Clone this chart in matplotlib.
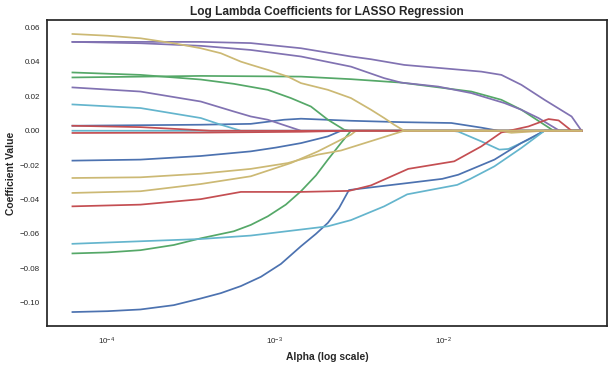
import numpy as np
import matplotlib
matplotlib.use('Agg')
import matplotlib.pyplot as plt

# colours (seaborn "deep" palette)
blue, green, red, purple, yellow, cyan = '#4C72B0', '#55A868', '#C44E52', '#8172B2', '#CCB974', '#64B5CD'

# coefficient paths: log10(alpha) knots and coefficient values
la_c3 = [-4.202, -1.952, -1.911, -1.774, -1.667, -1.613, -1.494, -1.399, -1.179]
cf_c3 = [0, 0, -0.0005, -0.0062, -0.011, -0.0106, -0.0052, 0, 0]

la_b3 = [-4.202, -3.994, -3.798, -3.601, -3.440, -3.321, -3.202, -3.083, -2.964, -2.845, -2.756, -2.685, -2.619, -2.560,
         -2.208, -2.006, -1.911, -1.696, -1.536, -1.399, -1.179]
cf_b3 = [-0.1055, -0.105, -0.104, -0.1015, -0.0976, -0.0945, -0.0904, -0.085, -0.0775, -0.0672, -0.060, -0.0536, -0.045, -0.0345,
         -0.0304, -0.028, -0.0256, -0.0168, -0.0071, 0, 0]

la_g3 = [-4.202, -3.994, -3.798, -3.601, -3.440, -3.244, -3.143, -3.042, -2.935, -2.845, -2.756, -2.685, -2.607, -2.548, -1.179]
cf_g3 = [-0.0714, -0.0708, -0.0695, -0.0665, -0.0626, -0.0585, -0.0548, -0.0498, -0.043, -0.0352, -0.026, -0.0168, -0.0071, 0, 0]

la_c2 = [-4.202, -3.440, -3.143, -2.845, -2.685, -2.548, -2.351, -2.214, -1.917, -1.839, -1.696, -1.536, -1.399, -1.179]
cf_c2 = [-0.0658, -0.063, -0.061, -0.0575, -0.0556, -0.052, -0.044, -0.037, -0.0315, -0.028, -0.0207, -0.010, 0, 0]

la_b2 = [-4.202, -3.798, -3.440, -3.143, -2.994, -2.845, -2.685, -2.607, -1.179]
cf_b2 = [-0.0174, -0.0168, -0.0147, -0.012, -0.0098, -0.0072, -0.0033, 0, 0]

la_b1 = [-4.202, -3.440, -3.143, -2.946, -2.845, -2.548, -2.250, -1.952, -1.774, -1.673, -1.179]
cf_b1 = [0.0029, 0.0035, 0.004, 0.0064, 0.007, 0.0058, 0.005, 0.0045, 0.0018, 0, 0]

la_g1 = [-4.202, -3.798, -3.440, -3.244, -3.042, -2.905, -2.786, -2.685, -2.589, -2.560, -1.179]
cf_g1 = [0.0339, 0.0325, 0.0298, 0.0273, 0.0238, 0.019, 0.0141, 0.0064, 0.0006, 0, 0]

la_g2 = [-4.202, -3.440, -2.845, -2.548, -2.250, -1.833, -1.655, -1.536, -1.345, -1.179]
cf_g2 = [0.031, 0.0319, 0.0315, 0.030, 0.028, 0.0228, 0.018, 0.0122, 0, 0]

la_p1 = [-4.202, -3.440, -3.143, -2.845, -2.548, -2.429, -2.232, -1.774, -1.655, -1.536, -1.399, -1.238, -1.179]
cf_p1 = [0.0517, 0.0517, 0.051, 0.048, 0.0432, 0.0416, 0.0383, 0.0344, 0.0325, 0.0267, 0.018, 0.0083, 0]

la_p2 = [-4.202, -3.798, -3.440, -3.143, -2.845, -2.548, -2.351, -2.250, -2.030, -1.833, -1.637, -1.536, -1.435, -1.310, -1.179]
cf_p2 = [0.0517, 0.0509, 0.0494, 0.047, 0.0432, 0.0373, 0.0306, 0.028, 0.0257, 0.0219, 0.0161, 0.0122, 0.0074, 0, 0]

la_p3 = [-4.202, -3.798, -3.440, -3.244, -3.143, -3.042, -2.845, -1.179]
cf_p3 = [0.0252, 0.0228, 0.017, 0.0112, 0.0083, 0.0064, 0, 0]

la_c1 = [-4.202, -3.798, -3.440, -3.321, -3.202, -1.179]
cf_c1 = [0.0153, 0.0132, 0.0074, 0.0035, 0, 0]

la_y3 = [-4.202, -3.798, -3.440, -3.143, -2.905, -2.744, -2.607, -2.548, -2.518, -1.673, -1.595, -1.399, -1.179]
cf_y3 = [-0.0362, -0.0352, -0.031, -0.0265, -0.0188, -0.012, -0.0052, -0.0023, 0, 0, -0.0012, 0, 0]

la_r2 = [-4.202, -3.798, -3.440, -3.202, -2.845, -2.560, -2.429, -2.208, -1.935, -1.774, -1.655, -1.494, -1.375, -1.315, -1.238, -1.179]
cf_r2 = [-0.044, -0.043, -0.0398, -0.0356, -0.0356, -0.035, -0.0318, -0.0222, -0.0178, -0.0091, -0.001, 0.0025, 0.0068, 0.006, 0, 0]

la_r0 = [-4.202, -3.798, -3.381, -1.179]
cf_r0 = [0.0029, 0.0021, 0, 0]

la_r1 = [-4.202, -3.440, -2.845, -2.548, -1.179]
cf_r1 = [-0.0013, -0.0011, -0.0006, 0, 0]

la_y2 = [-4.202, -3.798, -3.440, -3.143, -2.923, -2.744, -2.607, -2.232, -1.179]
cf_y2 = [-0.0275, -0.0271, -0.025, -0.0222, -0.0188, -0.0139, -0.0115, 0, 0]

la_y1 = [-4.202, -3.994, -3.798, -3.601, -3.440, -3.321, -3.202, -3.143, -3.042, -2.923, -2.845, -2.685, -2.548, -2.429, -2.351, -2.292, -2.232, -1.179]
cf_y1 = [0.0563, 0.0553, 0.0538, 0.0509, 0.048, 0.0451, 0.0402, 0.0384, 0.0354, 0.0315, 0.0277, 0.0238, 0.019, 0.0122, 0.0074, 0.0035, 0, 0]

paths = [
    (la_c3, cf_c3, cyan), (la_b3, cf_b3, blue), (la_g3, cf_g3, green),
    (la_c2, cf_c2, cyan), (la_b2, cf_b2, blue), (la_b1, cf_b1, blue),
    (la_g1, cf_g1, green), (la_g2, cf_g2, green), (la_p1, cf_p1, purple),
    (la_p2, cf_p2, purple), (la_p3, cf_p3, purple), (la_c1, cf_c1, cyan),
    (la_y3, cf_y3, yellow), (la_r2, cf_r2, red), (la_r0, cf_r0, red),
    (la_r1, cf_r1, red), (la_y2, cf_y2, yellow), (la_y1, cf_y1, yellow),
]

plt.rcParams['font.family'] = ['Liberation Sans', 'DejaVu Sans']

fig = plt.figure(figsize=(6.12, 3.65), dpi=100)
ax = fig.add_axes([0.0768, 0.107, 0.915, 0.838])

for la, cf, col in paths:
    ax.plot(10 ** np.array(la), cf, color=col, lw=1.25)

ax.set_xscale('log')
ax.set_title('Log Lambda Coefficients for LASSO Regression', fontsize=8.6, fontweight='bold',
             color='#262626', pad=3.5)
ax.set_xlabel('Alpha (log scale)', fontsize=7.4, fontweight='bold', color='#262626', labelpad=3.5)
ax.set_ylabel('Coefficient Value', fontsize=7.4, fontweight='bold', color='#262626', labelpad=3)

ax.tick_params(which='both', length=0, labelsize=5.8, labelcolor='#262626')
ax.tick_params(axis='x', pad=7)
ax.tick_params(axis='y', pad=5)
for s in ax.spines.values():
    s.set_color('#262626')
    s.set_linewidth(1.25)

plt.savefig('out.png', dpi=100)
